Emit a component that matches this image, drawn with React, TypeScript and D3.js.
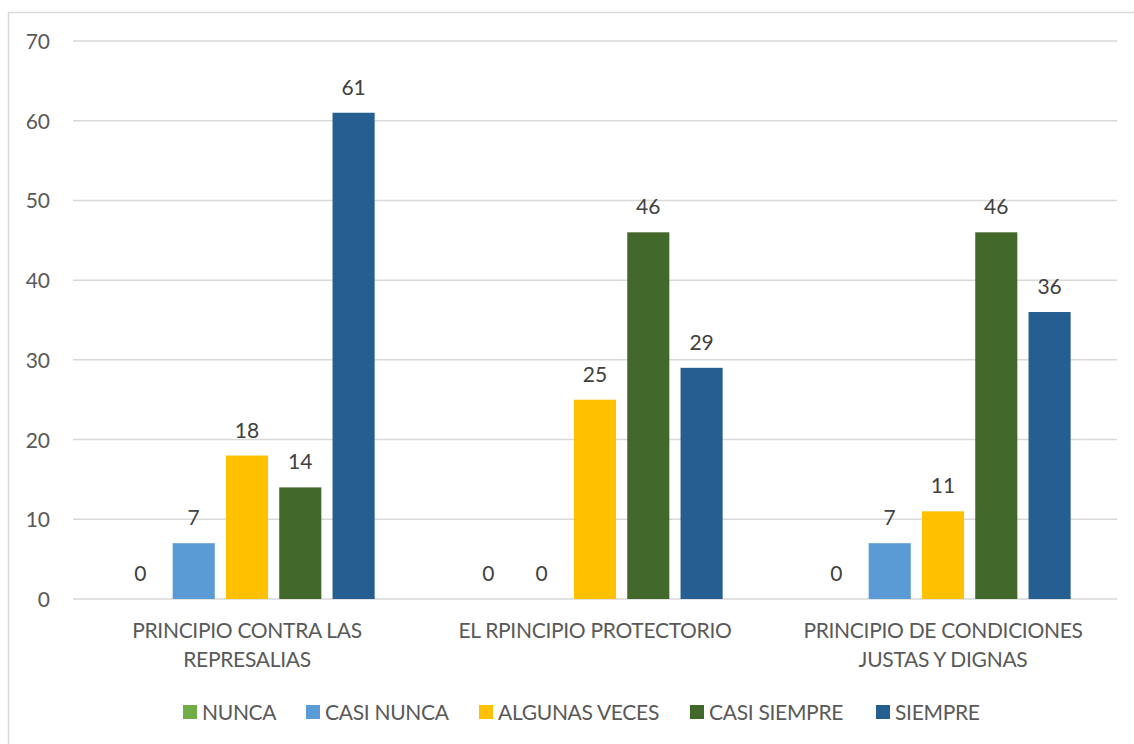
import React from "react";
import * as d3 from "d3";

const categories: string[][] = [
  ["PRINCIPIO CONTRA LAS", "REPRESALIAS"],
  ["EL RPINCIPIO PROTECTORIO"],
  ["PRINCIPIO DE CONDICIONES", "JUSTAS Y DIGNAS"],
];
const seriesNames = ["NUNCA", "CASI NUNCA", "ALGUNAS VECES", "CASI SIEMPRE", "SIEMPRE"];
const seriesColors = ["#70AD47", "#5B9BD5", "#FFC000", "#43682B", "#255E91"];
const nunca = [0, 0, 0];
const casiNunca = [7, 0, 7];
const algunasVeces = [18, 25, 11];
const casiSiempre = [14, 46, 46];
const siempre = [61, 29, 36];
const seriesValues = [nunca, casiNunca, algunasVeces, casiSiempre, siempre];
const yTicks = [0, 10, 20, 30, 40, 50, 60, 70];

const legendX = [183, 306, 479, 690, 876];

export default function App() {
  const W = 1134, H = 744;
  const font = "Lato, 'Open Sans', sans-serif";
  const fs = 21;
  const ls = -0.3;
  const x0 = d3.scaleBand<number>().domain([0, 1, 2]).range([73, 1117]).padding(0);
  const x1 = d3
    .scaleBand<number>()
    .domain([0, 1, 2, 3, 4])
    .range([0, x0.bandwidth()])
    .paddingInner(0.21)
    .paddingOuter(0.87);
  const y = d3.scaleLinear().domain([0, 70]).range([599, 41]);

  return (
    <svg
      width={W}
      height={H}
      style={{ position: "fixed", left: 0, top: 0, background: "#fff" }}
      fontFamily={font}
    >
      <rect x={0} y={0} width={W} height={H} fill="#fff" />
      <rect x={8.5} y={12.5} width={1300} height={900} fill="none" stroke="#D9D9D9" strokeWidth={1.5} />
      {yTicks.map((t) => (
        <g key={t}>
          <line x1={73} x2={1117} y1={y(t)} y2={y(t)} stroke="#D9D9D9" strokeWidth={1.5} />
          <text x={50} y={y(t) + 8} textAnchor="end" fontSize={fs} fill="#595959">
            {t}
          </text>
        </g>
      ))}
      {categories.map((cat, ci) => (
        <g key={ci} transform={`translate(${x0(ci)},0)`}>
          {seriesValues.map((vals, si) => {
            const v = vals[ci];
            const bx = x1(si)!;
            return (
              <g key={si}>
                {v > 0 && (
                  <rect
                    x={bx}
                    y={y(v)}
                    width={x1.bandwidth()}
                    height={y(0) - y(v)}
                    fill={seriesColors[si]}
                  />
                )}
                <text
                  x={bx + x1.bandwidth() / 2}
                  y={y(v) - 18}
                  textAnchor="middle"
                  fontSize={fs}
                  fill="#404040"
                >
                  {v}
                </text>
              </g>
            );
          })}
          {cat.map((line, li) => (
            <text
              key={li}
              x={x0.bandwidth() / 2}
              y={638 + li * 29}
              textAnchor="middle"
              fontSize={fs}
              letterSpacing={ls}
              fill="#595959"
            >
              {line}
            </text>
          ))}
        </g>
      ))}
      {seriesNames.map((n, i) => (
        <g key={n}>
          <rect x={legendX[i]} y={705} width={14} height={14} fill={seriesColors[i]} />
          <text x={legendX[i] + 19} y={720} fontSize={fs} letterSpacing={ls} fill="#595959">
            {n}
          </text>
        </g>
      ))}
    </svg>
  );
}
